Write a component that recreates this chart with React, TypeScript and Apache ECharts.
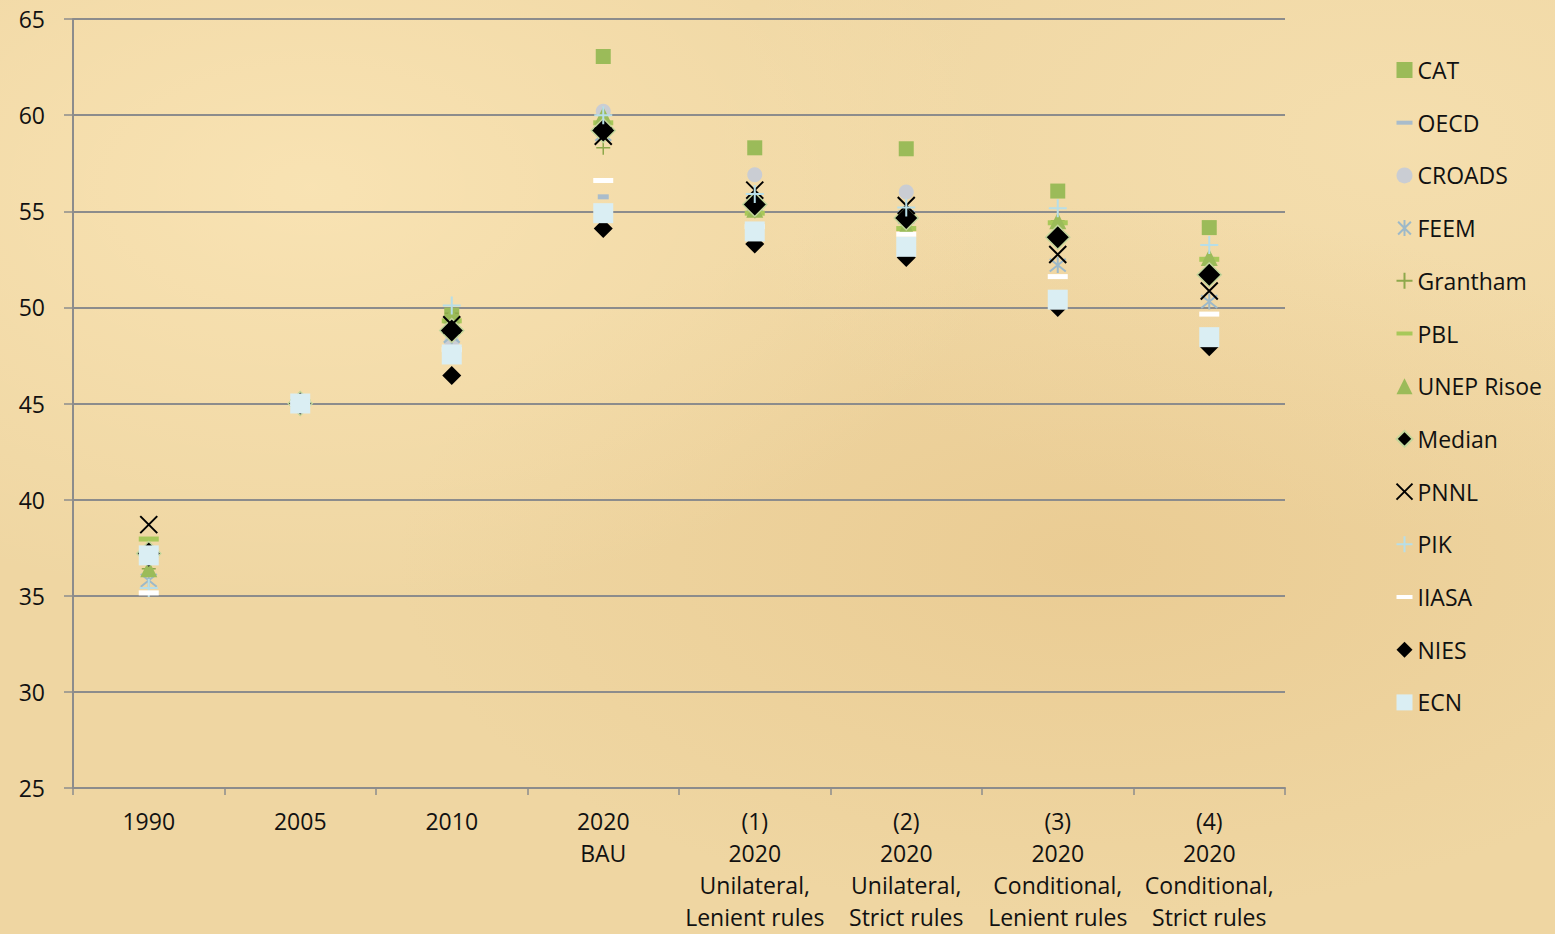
import React, { useEffect, useRef } from "react";
import * as echarts from "echarts";

const categories = [
  "1990",
  "2005",
  "2010",
  "2020\nBAU",
  "(1)\n2020\nUnilateral,\nLenient rules",
  "(2)\n2020\nUnilateral,\nStrict rules",
  "(3)\n2020\nConditional,\nLenient rules",
  "(4)\n2020\nConditional,\nStrict rules",
];

const yTicks = { min: 25, max: 65, interval: 5 };

const CAT = [37.1, 45.0, 49.6, 63.05, 58.3, 58.25, 56.05, 54.15];
const OECD = [37.0, 45.0, 47.5, 55.75, 55.0, 54.3, 54.4, 52.5];
const CROADS = [37.0, 45.0, 48.2, 60.2, 56.9, 56.0, 53.7, 51.7];
const FEEM = [35.8, 45.0, 48.5, 59.0, 55.3, 54.7, 52.2, 50.3];
const Grantham = [36.4, 45.0, 49.7, 58.3, 55.0, 54.2, 54.5, 52.5];
const PBL = [37.95, 45.1, 49.3, 59.6, 54.9, 54.1, 54.4, 52.5];
const UNEP = [36.4, 45.0, 49.6, 60.0, 55.1, 54.2, 54.5, 52.6];
const Median = [37.2, 45.0, 48.8, 59.2, 55.35, 54.65, 53.65, 51.7];
const PNNL = [38.7, 45.0, 49.1, 58.9, 56.1, 55.3, 52.75, 50.85];
const PIK = [35.4, 45.0, 50.1, 60.0, 55.9, 55.2, 55.15, 53.25];
const IIASA = [35.15, 45.0, 47.8, 56.6, 54.2, 53.8, 51.6, 49.65];
const NIES = [37.0, 45.0, 46.45, 54.1, 53.3, 52.6, 50.0, 47.95];
const ECN = [37.1, 45.0, 47.55, 54.9, 53.95, 53.15, 50.4, 48.45];

const FONT = "'Open Sans', 'Noto Sans', sans-serif";

const DASH = "path://M0,0H20V5H0Z";
const XMARK = "path://M0,0L10,10M10,0L0,10";
const PLUS = "path://M5,0V10M0,5H10";
const STAR = "path://M5,0V10M1,1L9,9M9,1L1,9";

type Spec = {
  name: string;
  data: number[];
  symbol: string;
  size: number | number[];
  fill: string;
  stroke?: string;
  lw?: number;
};

const specs: Spec[] = [
  { name: "CAT", data: CAT, symbol: "rect", size: 15, fill: "#9BBB59" },
  { name: "OECD", data: OECD, symbol: DASH, size: [11, 5], fill: "#A9BCCB" },
  { name: "CROADS", data: CROADS, symbol: "circle", size: 15, fill: "#CACDD3" },
  { name: "FEEM", data: FEEM, symbol: STAR, size: 16, fill: "none", stroke: "#9DB9C9", lw: 2 },
  { name: "Grantham", data: Grantham, symbol: PLUS, size: 14, fill: "none", stroke: "#8EA84B", lw: 1.5 },
  { name: "PBL", data: PBL, symbol: DASH, size: [20, 5], fill: "#A8C85A" },
  { name: "UNEP Risoe", data: UNEP, symbol: "triangle", size: 17, fill: "#9BBB59" },
  { name: "Median", data: Median, symbol: "diamond", size: 24, fill: "#000000", stroke: "#C3D69B", lw: 1.5 },
  { name: "PNNL", data: PNNL, symbol: XMARK, size: 17, fill: "none", stroke: "#000000", lw: 2 },
  { name: "PIK", data: PIK, symbol: PLUS, size: 18, fill: "none", stroke: "#B7DEE8", lw: 2 },
  { name: "IIASA", data: IIASA, symbol: DASH, size: [20, 5], fill: "#FFFFFF" },
  { name: "NIES", data: NIES, symbol: "diamond", size: 19, fill: "#000000" },
  { name: "ECN", data: ECN, symbol: "rect", size: 20, fill: "#DAEEF3" },
];

export default function App() {
  const ref = useRef<HTMLDivElement>(null);
  useEffect(() => {
    if (!ref.current) return;
    const chart = echarts.init(ref.current, undefined, { renderer: "svg" });
    const series = specs.map((s) => ({
      name: s.name,
      type: "scatter",
      data: s.data,
      symbol: s.symbol,
      symbolSize: s.size,
      itemStyle: {
        color: s.fill,
        borderColor: s.stroke || "transparent",
        borderWidth: s.lw || 0,
        opacity: 1,
      },
      emphasis: { disabled: true },
    }));
    chart.setOption({
      animation: false,
      backgroundColor: "transparent",
      grid: {
        left: 73,
        right: 270,
        top: 19,
        bottom: 146,
        containLabel: false,
        outerBoundsMode: "none",
      },
      xAxis: {
        type: "category",
        data: categories,
        boundaryGap: true,
        axisLine: { lineStyle: { color: "#8C8C8C", width: 2 } },
        axisTick: { show: true, length: 7, interval: 0, lineStyle: { color: "#8C8C8C", width: 1.5 } },
        axisLabel: {
          interval: 0,
          color: "#111",
          fontFamily: FONT,
          fontSize: 23,
          lineHeight: 32,
          margin: 17,
          align: "center",
        },
        splitLine: { show: false },
      },
      yAxis: {
        type: "value",
        min: yTicks.min,
        max: yTicks.max,
        interval: yTicks.interval,
        axisLine: { show: true, lineStyle: { color: "#8C8C8C", width: 2 } },
        axisTick: { show: true, length: 9, lineStyle: { color: "#8C8C8C", width: 1.5 } },
        axisLabel: { color: "#111", fontFamily: FONT, fontSize: 23, margin: 28 },
        splitLine: { show: true, lineStyle: { color: "#8C8C8C", width: 2 } },
      },
      legend: {
        orient: "vertical",
        left: 1394,
        top: 58,
        padding: 0,
        itemWidth: 16,
        itemHeight: 16,
        itemGap: 28.7,
        data: specs.map((s) => s.name),
        textStyle: { color: "#111", fontFamily: FONT, fontSize: 23, lineHeight: 24 },
        selectedMode: false,
      },
      series,
    });
    return () => chart.dispose();
  }, []);
  return (
    <div
      style={{
        position: "fixed",
        left: 0,
        top: 0,
        width: 1555,
        height: 934,
        background:
          "radial-gradient(ellipse at 20% 20%, rgba(255,235,190,0.6), rgba(255,235,190,0) 40%)," +
          "radial-gradient(ellipse at 70% 60%, rgba(225,185,120,0.35), rgba(225,185,120,0) 45%)," +
          "radial-gradient(ellipse at 90% 15%, rgba(250,230,185,0.5), rgba(250,230,185,0) 35%)," +
          "#EFD6A2",
      }}
    >
      <div ref={ref} style={{ width: 1555, height: 934 }} />
    </div>
  );
}
